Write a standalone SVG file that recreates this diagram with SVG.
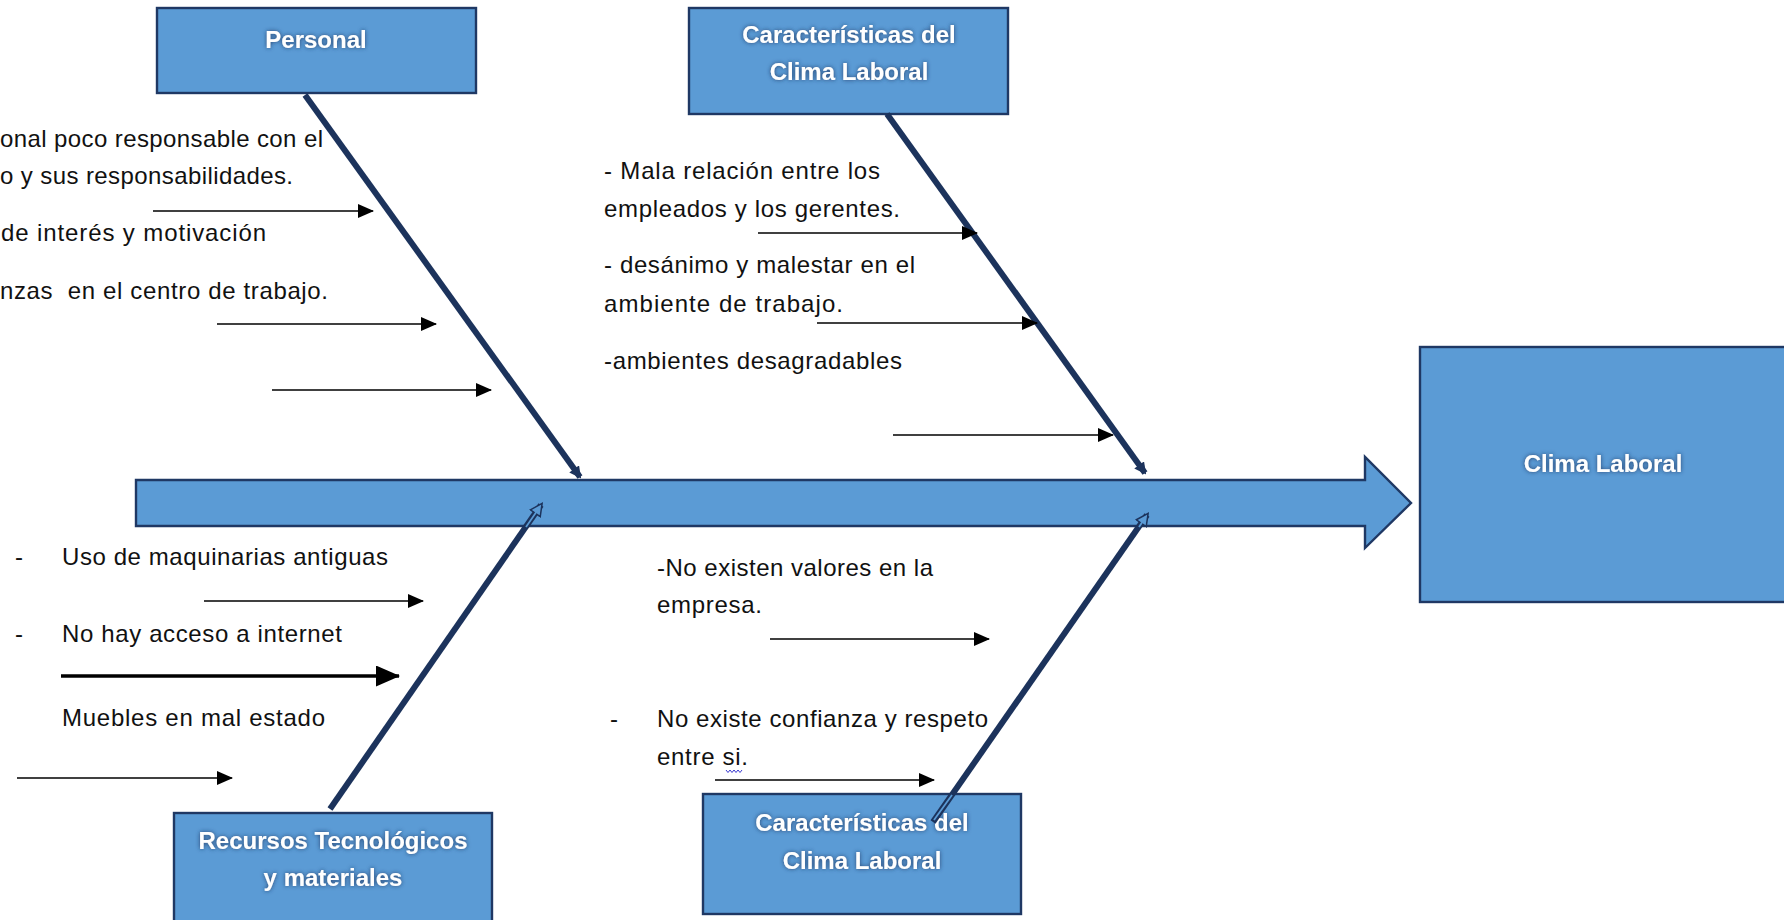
<svg xmlns="http://www.w3.org/2000/svg" width="1784" height="920" viewBox="0 0 1784 920">
<style>
.box{fill:#5B9BD5;stroke:#1F3864;stroke-width:2.4}
.h{font-family:"Liberation Sans",Arial,sans-serif;font-size:24px;font-weight:bold;fill:#ffffff;text-anchor:middle;filter:url(#glow)}
.t{font-family:"Liberation Sans",Arial,sans-serif;font-size:24px;fill:#111111}
.arr{stroke:#000;stroke-width:1.6;fill:none;marker-end:url(#ah)}
.arrb{stroke:#000;stroke-width:3.5;fill:none;marker-end:url(#ahb)}
.bone{stroke:#1C335C;stroke-width:6;fill:none;stroke-linecap:butt}
.inner{stroke:#5B9BD5;stroke-width:1.8;fill:none}
</style>
<defs>
<filter id="glow" x="-20%" y="-60%" width="140%" height="220%">
<feGaussianBlur in="SourceAlpha" stdDeviation="2" result="b"/>
<feFlood flood-color="#1F3864" flood-opacity="0.9"/>
<feComposite in2="b" operator="in" result="s"/>
<feMerge><feMergeNode in="s"/><feMergeNode in="SourceGraphic"/></feMerge>
</filter>
<marker id="ah" viewBox="0 0 16 14" markerWidth="16" markerHeight="14" refX="15" refY="7" orient="auto" markerUnits="userSpaceOnUse">
<path d="M0,0 L16,7 L0,14 z" fill="#000"/>
</marker>
<marker id="ahb" viewBox="0 0 24 21" markerWidth="24" markerHeight="21" refX="23" refY="10.5" orient="auto" markerUnits="userSpaceOnUse">
<path d="M0,0 L24,10.5 L0,21 z" fill="#000"/>
</marker>
<marker id="bh" viewBox="0 0 12 12" markerWidth="12" markerHeight="12" refX="10" refY="6" orient="auto" markerUnits="userSpaceOnUse">
<path d="M0,0 L12,6 L0,12 z" fill="#1C335C"/>
</marker>
<marker id="bho" viewBox="-1 -1 14 14" markerWidth="14" markerHeight="14" refX="10" refY="6" orient="auto" markerUnits="userSpaceOnUse">
<path d="M0,0 L12,6 L0,12 z" fill="#5B9BD5" stroke="#1C335C" stroke-width="1.5"/>
</marker>
</defs>
<rect width="1784" height="920" fill="#ffffff"/>

<g id="spine">
<polygon class="box" points="136,480 1365,480 1365,457 1411,503 1365,548 1365,526 136,526"/>
</g>

<g id="node-personal">
<rect class="box" x="157" y="8" width="319" height="85"/>
<text class="h" x="316" y="48">Personal</text>
</g>

<g id="node-caracteristicas-top">
<rect class="box" x="689" y="8" width="319" height="106"/>
<text class="h" x="849" y="43">Características del</text>
<text class="h" x="849" y="80">Clima Laboral</text>
</g>

<g id="node-clima">
<rect class="box" x="1420" y="347" width="372" height="255"/>
<text class="h" x="1603" y="472">Clima Laboral</text>
</g>

<g id="node-recursos">
<rect class="box" x="174" y="813" width="318" height="120"/>
<text class="h" x="333" y="849">Recursos Tecnológicos</text>
<text class="h" x="333" y="886">y materiales</text>
</g>

<g id="node-caracteristicas-bottom">
<rect class="box" x="703" y="794" width="318" height="120"/>
<text class="h" x="862" y="831">Características del</text>
<text class="h" x="862" y="869">Clima Laboral</text>
</g>

<g id="connectors">
<line class="bone" x1="305" y1="95" x2="580" y2="477" marker-end="url(#bh)"/>
<line class="bone" x1="887" y1="114" x2="1145" y2="473" marker-end="url(#bh)"/>
<line class="bone" x1="330" y1="809" x2="541" y2="505" marker-end="url(#bho)"/>
<line class="inner" x1="526" y1="527" x2="537" y2="511"/>
<line class="bone" x1="933" y1="822" x2="1147" y2="515" marker-end="url(#bho)"/>
<line class="inner" x1="1139" y1="527" x2="1143" y2="521"/>
<line class="inner" x1="934" y1="820" x2="952" y2="795"/>

<line class="arr" x1="153" y1="211" x2="373" y2="211"/>
<line class="arr" x1="217" y1="324" x2="436" y2="324"/>
<line class="arr" x1="272" y1="390" x2="491" y2="390"/>
<line class="arr" x1="758" y1="233" x2="977" y2="233"/>
<line class="arr" x1="817" y1="323" x2="1037" y2="323"/>
<line class="arr" x1="893" y1="435" x2="1113" y2="435"/>
<line class="arr" x1="204" y1="601" x2="423" y2="601"/>
<line class="arrb" x1="61" y1="676" x2="399" y2="676"/>
<line class="arr" x1="17" y1="778" x2="232" y2="778"/>
<line class="arr" x1="770" y1="639" x2="989" y2="639"/>
<line class="arr" x1="715" y1="780" x2="934" y2="780"/>
</g>

<g id="labels">
<text class="t" x="0" y="147" textLength="323" lengthAdjust="spacing">onal poco responsable con el</text>
<text class="t" x="0" y="184" textLength="293" lengthAdjust="spacing">o y sus responsabilidades.</text>
<text class="t" x="1" y="241" textLength="265" lengthAdjust="spacing">de interés y motivación</text>
<text class="t" x="0" y="299" textLength="328" lengthAdjust="spacing" xml:space="preserve">nzas  en el centro de trabajo.</text>

<text class="t" x="604" y="179" textLength="276" lengthAdjust="spacing">- Mala relación entre los</text>
<text class="t" x="604" y="217" textLength="296" lengthAdjust="spacing">empleados y los gerentes.</text>
<text class="t" x="604" y="273" textLength="311" lengthAdjust="spacing">- desánimo y malestar en el</text>
<text class="t" x="604" y="312" textLength="239" lengthAdjust="spacing">ambiente de trabajo.</text>
<text class="t" x="604" y="369" textLength="298" lengthAdjust="spacing">-ambientes desagradables</text>

<text class="t" x="15" y="565">-</text>
<text class="t" x="62" y="565" textLength="326" lengthAdjust="spacing">Uso de maquinarias antiguas</text>
<text class="t" x="15" y="642">-</text>
<text class="t" x="62" y="642" textLength="280" lengthAdjust="spacing">No hay acceso a internet</text>
<text class="t" x="62" y="726" textLength="263" lengthAdjust="spacing">Muebles en mal estado</text>

<text class="t" x="657" y="576" textLength="276" lengthAdjust="spacing">-No existen valores en la</text>
<text class="t" x="657" y="613" textLength="105" lengthAdjust="spacing">empresa.</text>
<text class="t" x="610" y="727">-</text>
<text class="t" x="657" y="727" textLength="331" lengthAdjust="spacing">No existe confianza y respeto</text>
<text class="t" x="657" y="765" textLength="91" lengthAdjust="spacing">entre si.</text>
<path d="M726,770 l2,2.5 l2,-2.5 l2,2.5 l2,-2.5 l2,2.5 l2,-2.5 l2,2.5 l2,-2.5" stroke="#3A3AD0" stroke-width="1" fill="none"/>
</g>
</svg>
